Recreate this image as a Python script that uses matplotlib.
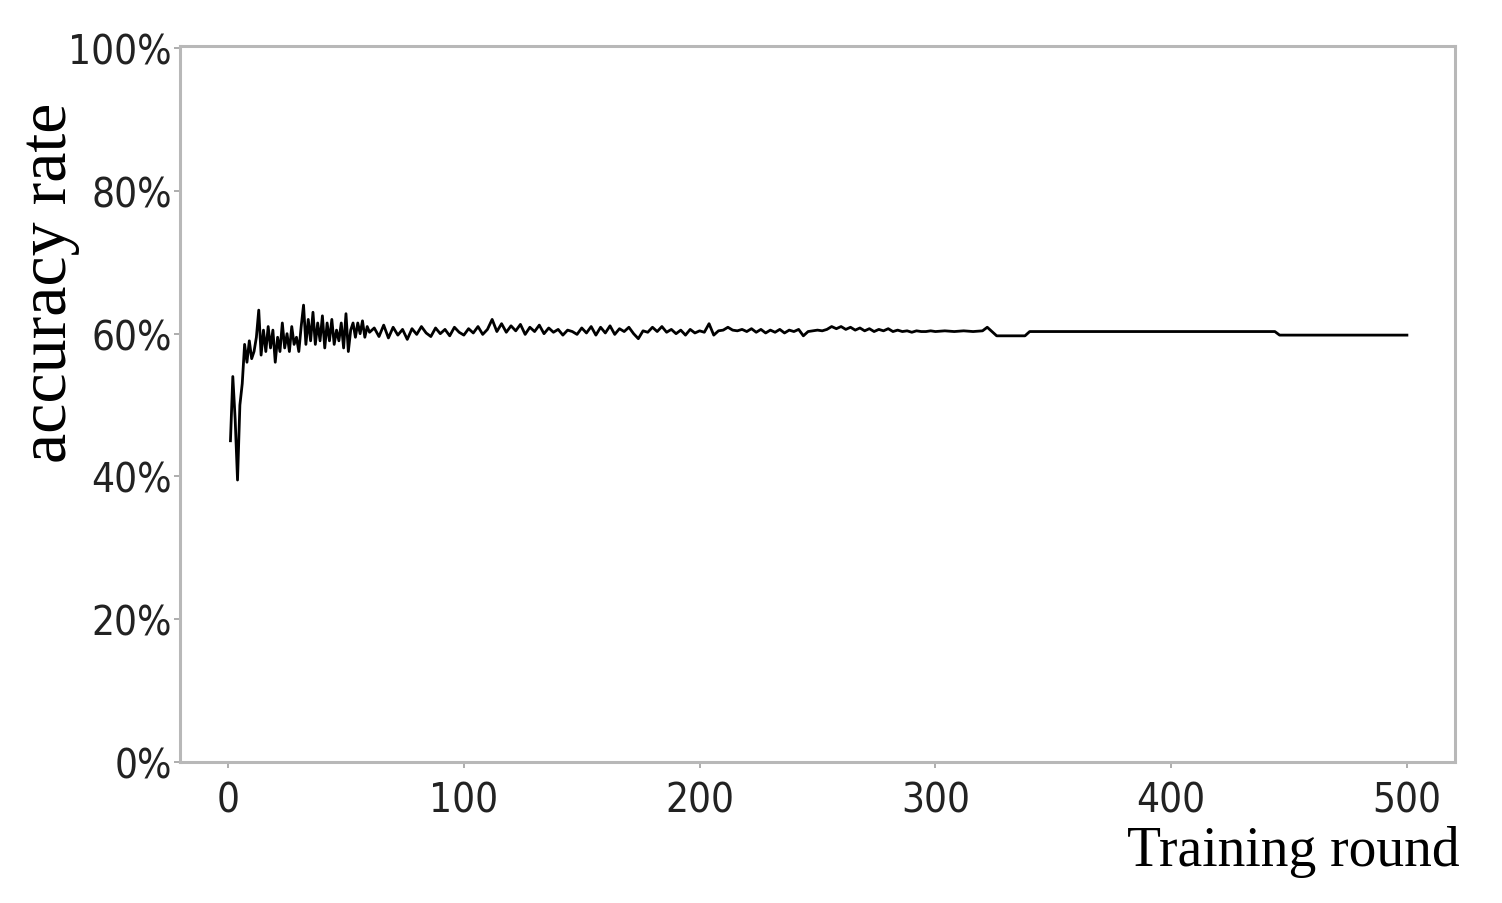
import matplotlib
matplotlib.use("Agg")
import matplotlib.pyplot as plt
from matplotlib.ticker import FuncFormatter

# ---- data (accuracy in %) ----
rounds_early = list(range(1, 61))
acc_early = [45.0, 54.0, 48.0, 39.5, 50.0, 53.0, 58.5, 56.0, 59.0, 56.5,
             57.5, 59.5, 63.3, 57.0, 60.5, 57.5, 61.0, 58.0, 60.5, 56.0,
             59.5, 57.5, 61.5, 58.0, 60.0, 57.5, 61.0, 58.5, 59.5, 57.5,
             61.0, 64.0, 58.5, 62.0, 59.0, 63.0, 58.5, 61.5, 59.0, 62.5,
             58.0, 61.5, 59.0, 62.0, 58.5, 60.5, 59.0, 61.5, 58.0, 62.8,
             57.5, 60.5, 61.5, 59.5, 61.5, 60.0, 61.8, 59.5, 61.0, 60.2]

rounds_mid = list(range(62, 301, 2))
acc_mid = [60.8, 59.6, 61.2, 59.4, 60.9, 59.8, 60.6, 59.2, 60.7, 59.9,
           61.0, 60.1, 59.6, 60.8, 60.0, 60.6, 59.7, 60.9, 60.2, 59.8,
           60.7, 60.1, 61.0, 59.9, 60.6, 62.0, 60.3, 61.4, 60.2, 61.1,
           60.4, 61.3, 59.9, 60.9, 60.3, 61.2, 60.0, 60.8, 60.2, 60.6,
           59.8, 60.5, 60.3, 59.9, 60.8, 60.1, 61.0, 59.8, 60.9, 60.1,
           61.1, 59.9, 60.7, 60.3, 60.9, 60.0, 59.3, 60.4, 60.2, 60.9,
           60.3, 61.0, 60.2, 60.6, 60.0, 60.5, 59.8, 60.6, 60.1, 60.4,
           60.2, 61.4, 59.8, 60.4, 60.5, 60.9, 60.5, 60.4, 60.6, 60.3,
           60.7, 60.2, 60.6, 60.1, 60.5, 60.2, 60.6, 60.1, 60.5, 60.3,
           60.6, 59.7, 60.3, 60.4, 60.5, 60.4, 60.6, 61.0, 60.7, 61.0,
           60.6, 60.9, 60.5, 60.8, 60.4, 60.7, 60.3, 60.6, 60.4, 60.7,
           60.3, 60.5, 60.3, 60.4, 60.2, 60.4, 60.3, 60.3, 60.4, 60.3]

rounds_late = [304, 308, 312, 316, 320, 322, 324, 326, 338, 340, 444, 446, 500]
acc_late = [60.4, 60.3, 60.4, 60.3, 60.4, 60.9, 60.3, 59.7, 59.7, 60.3, 60.3, 59.8, 59.8]

rounds = rounds_early + rounds_mid + rounds_late
accuracy = acc_early + acc_mid + acc_late

x_ticks = [0, 100, 200, 300, 400, 500]
y_ticks = [0, 20, 40, 60, 80, 100]

# ---- figure ----
fig = plt.figure(figsize=(15.02, 9.04), dpi=100)
ax = fig.add_axes([180/1502, 1-763/904, (1455-180)/1502, (763-47)/904])

ax.plot(rounds, accuracy, color="black", lw=2.0)

ax.set_xlim(-20.4, 520.4)
ax.set_ylim(0, 100.3)
ax.set_xticks(x_ticks)
ax.set_yticks(y_ticks)
ax.yaxis.set_major_formatter(FuncFormatter(lambda v, p: f"{int(v)}%"))

for lbl in ax.get_xticklabels() + ax.get_yticklabels():
    lbl.set_fontfamily(["DejaVu Sans"])
    lbl.set_fontstretch("condensed")
    lbl.set_fontsize(29)
    lbl.set_color("#222222")

ax.tick_params(axis="both", direction="out", length=4, width=1.2,
               color="#a0a0a0")
ax.tick_params(axis="x", pad=9)
ax.tick_params(axis="y", pad=2)
for s in ax.spines.values():
    s.set_color("#b8b8b8")
    s.set_linewidth(2.2)

fig.text(50/1502, 1-283/904, "accuracy rate", rotation=90,
         ha="center", va="center", family="Liberation Serif", fontsize=49)
fig.text(1460/1502, 1-852/904, "Training round",
         ha="right", va="center", family="Liberation Serif", fontsize=40,
         weight="medium")

fig.savefig("out.png", dpi=100)
